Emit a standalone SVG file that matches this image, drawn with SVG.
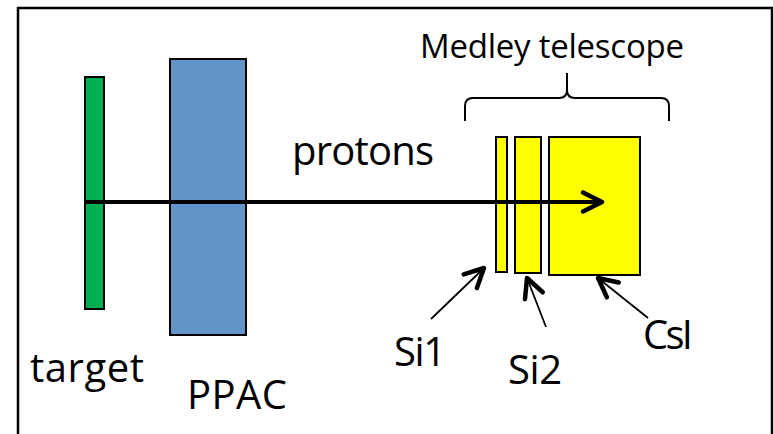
<svg xmlns="http://www.w3.org/2000/svg" width="773" height="434" viewBox="0 0 773 434">
  <style>
    .lbl { font-family: "Open Sans", "Liberation Sans", sans-serif; fill: #000; }
    .box { stroke: #000; stroke-width: 2; }
    .ptr { fill: none; stroke: #000; stroke-width: 1.8; }
  </style>
  <defs>
    <marker id="ah" markerUnits="userSpaceOnUse" markerWidth="40" markerHeight="40" viewBox="-30 -20 40 40" refX="0" refY="0" orient="auto" overflow="visible">
      <path d="M-19,-9.5 L0,0 L-19,9.5" fill="none" stroke="#000" stroke-width="4.5" stroke-linecap="round" stroke-linejoin="round"/>
    </marker>
  </defs>
  <rect x="0" y="0" width="773" height="434" fill="#fff"/>
  <rect x="18" y="8" width="754" height="440" fill="none" stroke="#000" stroke-width="2.5"/>

  <g id="target">
    <rect class="box" x="85" y="77" width="19" height="232" fill="#00B050"/>
    <text class="lbl" x="30" y="382" font-size="40" textLength="114">target</text>
  </g>
  <g id="ppac">
    <rect class="box" x="170" y="59" width="76" height="276" fill="#6195C8"/>
    <text class="lbl" x="187" y="409" font-size="40" textLength="100">PPAC</text>
  </g>
  <g id="si1">
    <rect class="box" x="496" y="137" width="11" height="135" fill="#FFFF00"/>
    <text class="lbl" x="394" y="366" font-size="40" textLength="52">Si1</text>
  </g>
  <g id="si2">
    <rect class="box" x="515" y="137" width="26" height="136" fill="#FFFF00"/>
    <text class="lbl" x="508" y="384" font-size="40" textLength="54">Si2</text>
  </g>
  <g id="csi">
    <rect class="box" x="549" y="137" width="91" height="138" fill="#FFFF00"/>
    <text class="lbl" x="643" y="349" font-size="40" textLength="50">CsI</text>
  </g>
  <g id="telescope">
    <path d="M465,121 L465,106 Q465,98 473,98 L559,98 Q567,98 567,90 L567,73 M567,90 Q567,98 575,98 L661,98 Q669,98 669,106 L669,121" fill="none" stroke="#000" stroke-width="2"/>
    <text class="lbl" x="420" y="58" font-size="33" textLength="264">Medley telescope</text>
  </g>

  <g id="connectors">
    <line x1="85" y1="202" x2="602" y2="202" stroke="#000" stroke-width="4" marker-end="url(#ah)"/>
    <text class="lbl" x="292" y="165" font-size="40" textLength="142">protons</text>
    <line class="ptr" x1="431" y1="319" x2="484" y2="268" marker-end="url(#ah)"/>
    <line class="ptr" x1="546" y1="327" x2="527" y2="278" marker-end="url(#ah)"/>
    <line class="ptr" x1="648" y1="318" x2="598" y2="278" marker-end="url(#ah)"/>
  </g>
</svg>
